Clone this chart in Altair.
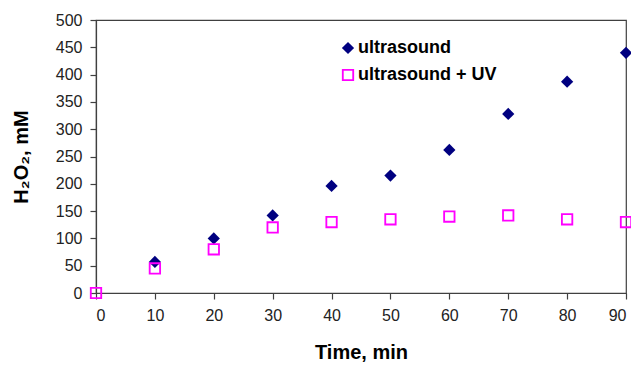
import altair as alt
import pandas as pd

time_us = [10, 20, 30, 40, 50, 60, 70, 80, 90]
ultrasound = [57, 100, 142, 196, 215, 262, 328, 387, 440]
time_uv = [0, 10, 20, 30, 40, 50, 60, 70, 80, 90]
ultrasound_uv = [0, 45, 80, 120, 130, 135, 140, 142, 135, 130]
x_ticks = [0, 10, 20, 30, 40, 50, 60, 70, 80, 90]
y_ticks = [0, 50, 100, 150, 200, 250, 300, 350, 400, 450, 500]
series_names = ["ultrasound", "ultrasound + UV"]

rows = []
for t, v in zip(time_us, ultrasound):
    rows.append({"t": t, "v": v, "s": series_names[0], "o": 0})
for t, v in zip(time_uv, ultrasound_uv):
    rows.append({"t": t, "v": v, "s": series_names[1], "o": 1})
df = pd.DataFrame(rows)

FONT = "Liberation Sans"
HOLLOW_SQUARE = ("M-1,-1L1,-1L1,1L-1,1Z"
                 "M-0.7,-0.7L-0.7,0.7L0.7,0.7L0.7,-0.7Z")

leg = alt.Legend(
    title=None, orient="none", legendX=243, legendY=19,
    labelFont=FONT, labelFontSize=18, labelFontWeight="bold", labelColor="black",
    symbolSize=150, symbolStrokeWidth=0, rowPadding=9, labelOffset=1,
    symbolOpacity=1,
)

chart = alt.Chart(df).mark_point(filled=True, opacity=1, size=150, strokeWidth=0).encode(
    x=alt.X("t:Q", scale=alt.Scale(domain=[0, 90], nice=False),
            axis=alt.Axis(values=x_ticks, title="Time, min", grid=False)),
    y=alt.Y("v:Q", scale=alt.Scale(domain=[0, 500], nice=False),
            axis=alt.Axis(values=y_ticks, title="H₂O₂, mM", grid=False)),
    shape=alt.Shape("s:N", scale=alt.Scale(domain=series_names, range=["diamond", HOLLOW_SQUARE]), legend=leg),
    color=alt.Color("s:N", scale=alt.Scale(domain=series_names, range=["#000080", "#FF00FF"]), legend=leg),
    order=alt.Order("o:Q"),
).properties(
    width=530, height=273,
    autosize=alt.AutoSizeParams(type="none"),
    padding={"left": 88, "top": 12, "right": 5, "bottom": 72},
).configure_view(
    stroke="#404040", strokeWidth=1.2
).configure_axis(
    domainColor="#404040", tickColor="#404040", domainWidth=1.2, tickWidth=1.2,
    labelFont=FONT, labelFontSize=16, labelColor="#222222",
    titleFont=FONT, titleFontSize=20, titleFontWeight="bold", titleColor="black",
    tickSize=6,
).configure_axisX(
    labelPadding=8, titlePadding=19,
).configure_axisY(
    labelPadding=8, titlePadding=24,
)

chart.save("out.html", embed_options={"renderer": "svg", "actions": False})
